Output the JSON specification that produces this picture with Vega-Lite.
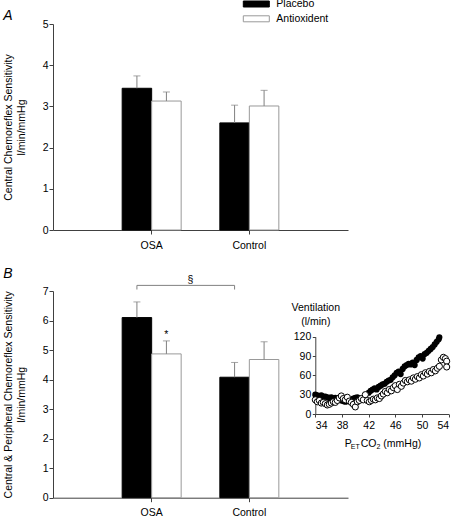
{
  "$schema": "https://vega.github.io/schema/vega-lite/v6.json",
  "padding": {"left": 3, "top": -2, "right": 0, "bottom": 0},
  "spacing": 61,
  "bounds": "flush",
  "config": {
    "view": {"stroke": null},
    "font": "Liberation Sans",
    "axis": {
      "labelFont": "Liberation Sans", "labelFontSize": 10.5, "labelColor": "black", "labelOverlap": false,
      "titleFont": "Liberation Sans", "titleFontSize": 10.5, "titleFontWeight": "normal", "titleColor": "black",
      "domainColor": "#404040", "tickColor": "#404040", "grid": false, "tickSize": 4, "labelPadding": 1
    },
    "legend": {"labelFont": "Liberation Sans", "labelFontSize": 10.5, "labelColor": "black"}
  },
  "datasets": {
    "bars": [
      {"panel": "A", "group": "OSA", "treat": "Placebo", "value": 3.44, "upper": 3.74, "sig": ""},
      {"panel": "A", "group": "OSA", "treat": "Antioxident", "value": 3.13, "upper": 3.35, "sig": ""},
      {"panel": "A", "group": "Control", "treat": "Placebo", "value": 2.6, "upper": 3.03, "sig": ""},
      {"panel": "A", "group": "Control", "treat": "Antioxident", "value": 3.01, "upper": 3.39, "sig": ""},
      {"panel": "B", "group": "OSA", "treat": "Placebo", "value": 6.1, "upper": 6.63, "sig": ""},
      {"panel": "B", "group": "OSA", "treat": "Antioxident", "value": 4.87, "upper": 5.31, "sig": "*"},
      {"panel": "B", "group": "Control", "treat": "Placebo", "value": 4.08, "upper": 4.58, "sig": ""},
      {"panel": "B", "group": "Control", "treat": "Antioxident", "value": 4.68, "upper": 5.28, "sig": ""}
    ],
    "bracket": [
      {"group": "OSA", "treat": "Placebo", "y": 7.05, "o": 1},
      {"group": "OSA", "treat": "Placebo", "y": 7.19, "o": 2},
      {"group": "Control", "treat": "Placebo", "y": 7.19, "o": 3},
      {"group": "Control", "treat": "Placebo", "y": 7.05, "o": 4}
    ],
    "vent": [
      {"s": "P", "x": 34.0, "y": 30}, {"s": "P", "x": 34.3, "y": 29}, {"s": "P", "x": 34.6, "y": 28}, {"s": "P", "x": 34.9, "y": 29},
      {"s": "P", "x": 35.2, "y": 27}, {"s": "P", "x": 35.5, "y": 27}, {"s": "P", "x": 35.8, "y": 26}, {"s": "P", "x": 36.1, "y": 25},
      {"s": "P", "x": 36.4, "y": 26}, {"s": "P", "x": 36.7, "y": 24}, {"s": "P", "x": 37.0, "y": 25}, {"s": "P", "x": 37.3, "y": 24},
      {"s": "P", "x": 37.6, "y": 23}, {"s": "P", "x": 37.9, "y": 21}, {"s": "P", "x": 38.2, "y": 20}, {"s": "P", "x": 38.5, "y": 19},
      {"s": "P", "x": 38.8, "y": 20}, {"s": "P", "x": 39.1, "y": 21}, {"s": "P", "x": 39.4, "y": 22}, {"s": "P", "x": 39.7, "y": 24},
      {"s": "P", "x": 40.0, "y": 25}, {"s": "P", "x": 40.3, "y": 26}, {"s": "P", "x": 40.6, "y": 24}, {"s": "P", "x": 42.0, "y": 33},
      {"s": "P", "x": 42.3, "y": 36}, {"s": "P", "x": 42.6, "y": 38}, {"s": "P", "x": 42.9, "y": 40}, {"s": "P", "x": 43.2, "y": 38},
      {"s": "P", "x": 43.5, "y": 42}, {"s": "P", "x": 43.8, "y": 44}, {"s": "P", "x": 44.1, "y": 46}, {"s": "P", "x": 44.4, "y": 47},
      {"s": "P", "x": 44.7, "y": 50}, {"s": "P", "x": 45.0, "y": 52}, {"s": "P", "x": 45.3, "y": 53}, {"s": "P", "x": 45.6, "y": 57},
      {"s": "P", "x": 45.9, "y": 60}, {"s": "P", "x": 46.2, "y": 64}, {"s": "P", "x": 46.5, "y": 66}, {"s": "P", "x": 46.8, "y": 62},
      {"s": "P", "x": 47.1, "y": 70}, {"s": "P", "x": 47.4, "y": 74}, {"s": "P", "x": 47.7, "y": 76}, {"s": "P", "x": 48.0, "y": 78},
      {"s": "P", "x": 48.3, "y": 77}, {"s": "P", "x": 48.6, "y": 80}, {"s": "P", "x": 48.9, "y": 76}, {"s": "P", "x": 49.2, "y": 84},
      {"s": "P", "x": 49.5, "y": 88}, {"s": "P", "x": 49.8, "y": 90}, {"s": "P", "x": 50.1, "y": 86}, {"s": "P", "x": 50.4, "y": 93},
      {"s": "P", "x": 50.7, "y": 95}, {"s": "P", "x": 51.0, "y": 98}, {"s": "P", "x": 51.3, "y": 101}, {"s": "P", "x": 51.6, "y": 104},
      {"s": "P", "x": 51.9, "y": 108}, {"s": "P", "x": 52.2, "y": 112}, {"s": "P", "x": 52.5, "y": 116}, {"s": "P", "x": 52.6, "y": 119},
      {"s": "A", "x": 34.0, "y": 22}, {"s": "A", "x": 34.3, "y": 19}, {"s": "A", "x": 34.6, "y": 21}, {"s": "A", "x": 34.9, "y": 17},
      {"s": "A", "x": 35.2, "y": 18}, {"s": "A", "x": 35.5, "y": 16}, {"s": "A", "x": 35.8, "y": 14}, {"s": "A", "x": 36.1, "y": 15},
      {"s": "A", "x": 36.4, "y": 17}, {"s": "A", "x": 36.7, "y": 19}, {"s": "A", "x": 37.0, "y": 18}, {"s": "A", "x": 37.3, "y": 21},
      {"s": "A", "x": 37.6, "y": 25}, {"s": "A", "x": 37.9, "y": 28}, {"s": "A", "x": 38.2, "y": 24}, {"s": "A", "x": 38.5, "y": 22},
      {"s": "A", "x": 38.8, "y": 26}, {"s": "A", "x": 39.1, "y": 20}, {"s": "A", "x": 39.4, "y": 18}, {"s": "A", "x": 39.7, "y": 15},
      {"s": "A", "x": 40.0, "y": 11}, {"s": "A", "x": 40.3, "y": 19}, {"s": "A", "x": 40.6, "y": 21}, {"s": "A", "x": 40.9, "y": 24},
      {"s": "A", "x": 41.2, "y": 22}, {"s": "A", "x": 41.5, "y": 30}, {"s": "A", "x": 41.8, "y": 21}, {"s": "A", "x": 42.1, "y": 19},
      {"s": "A", "x": 42.4, "y": 21}, {"s": "A", "x": 42.7, "y": 23}, {"s": "A", "x": 43.0, "y": 22}, {"s": "A", "x": 43.3, "y": 25},
      {"s": "A", "x": 43.6, "y": 24}, {"s": "A", "x": 43.9, "y": 28}, {"s": "A", "x": 44.2, "y": 31}, {"s": "A", "x": 44.5, "y": 35},
      {"s": "A", "x": 44.8, "y": 33}, {"s": "A", "x": 45.1, "y": 38}, {"s": "A", "x": 45.4, "y": 36}, {"s": "A", "x": 45.7, "y": 41},
      {"s": "A", "x": 46.0, "y": 44}, {"s": "A", "x": 46.3, "y": 38}, {"s": "A", "x": 46.6, "y": 46}, {"s": "A", "x": 46.9, "y": 43},
      {"s": "A", "x": 47.2, "y": 48}, {"s": "A", "x": 47.5, "y": 52}, {"s": "A", "x": 47.8, "y": 50}, {"s": "A", "x": 48.1, "y": 53},
      {"s": "A", "x": 48.4, "y": 51}, {"s": "A", "x": 48.7, "y": 56}, {"s": "A", "x": 49.0, "y": 54}, {"s": "A", "x": 49.3, "y": 58},
      {"s": "A", "x": 49.6, "y": 56}, {"s": "A", "x": 49.9, "y": 61}, {"s": "A", "x": 50.2, "y": 59}, {"s": "A", "x": 50.5, "y": 64},
      {"s": "A", "x": 50.8, "y": 62}, {"s": "A", "x": 51.1, "y": 66}, {"s": "A", "x": 51.4, "y": 64}, {"s": "A", "x": 51.7, "y": 69},
      {"s": "A", "x": 52.0, "y": 67}, {"s": "A", "x": 52.3, "y": 71}, {"s": "A", "x": 52.6, "y": 74}, {"s": "A", "x": 52.9, "y": 84},
      {"s": "A", "x": 53.2, "y": 88}, {"s": "A", "x": 53.5, "y": 86}, {"s": "A", "x": 53.7, "y": 82}, {"s": "A", "x": 53.7, "y": 73}
    ]
  },
  "vconcat": [
    {
      "width": 295, "height": 206,
      "title": {"text": "A", "anchor": "start", "frame": "bounds", "font": "Liberation Sans", "fontStyle": "italic", "fontSize": 14, "fontWeight": "normal", "offset": -4},
      "data": {"name": "bars"},
      "transform": [{"filter": "datum.panel == 'A'"}],
      "layer": [
        {
          "mark": {"type": "bar", "strokeWidth": 1},
          "encoding": {
            "x": {"field": "group", "type": "nominal", "sort": ["OSA", "Control"], "scale": {"paddingInner": 0.396, "paddingOuter": 0.708}, "axis": {"title": null, "labelAngle": 0, "labelPadding": 6}},
            "xOffset": {"field": "treat", "sort": ["Placebo", "Antioxident"], "scale": {"paddingInner": 0, "paddingOuter": 0}},
            "y": {"field": "value", "type": "quantitative", "scale": {"domain": [0, 5], "nice": false}, "axis": {"title": ["Central Chemoreflex Sensitivity", "l/min/mmHg"], "values": [0, 1, 2, 3, 4, 5], "titlePadding": 16, "titleLineHeight": 13}},
            "fill": {"field": "treat", "type": "nominal", "scale": {"domain": ["Placebo", "Antioxident"], "range": ["black", "white"]},
              "legend": {"title": null, "orient": "none", "legendX": 197.8, "legendY": -25.5, "symbolType": "M-2.6,-0.6H2.6V0.6H-2.6Z", "symbolSize": 100, "labelOffset": 14.5, "rowPadding": 3.8, "symbolStrokeWidth": 1}},
            "stroke": {"field": "treat", "type": "nominal", "scale": {"domain": ["Placebo", "Antioxident"], "range": ["black", "#999999"]},
              "legend": {"title": null, "orient": "none", "legendX": 197.8, "legendY": -25.5, "symbolType": "M-2.6,-0.6H2.6V0.6H-2.6Z", "symbolSize": 100, "labelOffset": 14.5, "rowPadding": 3.8, "symbolStrokeWidth": 1}}
          }
        },
        {
          "mark": {"type": "rule", "color": "#808080", "strokeWidth": 1},
          "encoding": {
            "x": {"field": "group", "type": "nominal", "sort": ["OSA", "Control"]},
            "xOffset": {"field": "treat", "sort": ["Placebo", "Antioxident"]},
            "y": {"field": "value", "type": "quantitative", "axis": {"title": ["Central Chemoreflex Sensitivity", "l/min/mmHg"], "values": [0, 1, 2, 3, 4, 5], "titlePadding": 16, "titleLineHeight": 13}},
            "y2": {"field": "upper"}
          }
        },
        {
          "mark": {"type": "tick", "orient": "horizontal", "size": 7, "thickness": 1, "color": "#808080"},
          "encoding": {
            "x": {"field": "group", "type": "nominal", "sort": ["OSA", "Control"]},
            "xOffset": {"field": "treat", "sort": ["Placebo", "Antioxident"]},
            "y": {"field": "upper", "type": "quantitative", "axis": {"title": ["Central Chemoreflex Sensitivity", "l/min/mmHg"], "values": [0, 1, 2, 3, 4, 5], "titlePadding": 16, "titleLineHeight": 13}}
          }
        }
      ]
    },
    {
      "width": 295, "height": 206.7,
      "title": {"text": "B", "anchor": "start", "frame": "bounds", "font": "Liberation Sans", "fontStyle": "italic", "fontSize": 14, "fontWeight": "normal", "offset": -6},
      "layer": [
        {
          "data": {"name": "bars"},
          "transform": [{"filter": "datum.panel == 'B'"}],
          "layer": [
            {
              "mark": {"type": "bar", "strokeWidth": 1},
              "encoding": {
                "x": {"field": "group", "type": "nominal", "sort": ["OSA", "Control"], "scale": {"paddingInner": 0.396, "paddingOuter": 0.708}, "axis": {"title": null, "labelAngle": 0, "labelPadding": 6}},
                "xOffset": {"field": "treat", "sort": ["Placebo", "Antioxident"], "scale": {"paddingInner": 0, "paddingOuter": 0}},
                "y": {"field": "value", "type": "quantitative", "scale": {"domain": [0, 7], "nice": false}, "axis": {"title": ["Central & Peripheral Chemoreflex Sensitivity", "l/min/mmHg"], "values": [0, 1, 2, 3, 4, 5, 6, 7], "titlePadding": 16, "titleLineHeight": 13}},
                "fill": {"field": "treat", "type": "nominal"},
                "stroke": {"field": "treat", "type": "nominal"}
              }
            },
            {
              "mark": {"type": "rule", "color": "#808080", "strokeWidth": 1},
              "encoding": {
                "x": {"field": "group", "type": "nominal", "sort": ["OSA", "Control"]},
                "xOffset": {"field": "treat", "sort": ["Placebo", "Antioxident"]},
                "y": {"field": "value", "type": "quantitative", "axis": {"title": ["Central & Peripheral Chemoreflex Sensitivity", "l/min/mmHg"], "values": [0, 1, 2, 3, 4, 5, 6, 7], "titlePadding": 16, "titleLineHeight": 13}},
                "y2": {"field": "upper"}
              }
            },
            {
              "mark": {"type": "tick", "orient": "horizontal", "size": 7, "thickness": 1, "color": "#808080"},
              "encoding": {
                "x": {"field": "group", "type": "nominal", "sort": ["OSA", "Control"]},
                "xOffset": {"field": "treat", "sort": ["Placebo", "Antioxident"]},
                "y": {"field": "upper", "type": "quantitative", "axis": {"title": ["Central & Peripheral Chemoreflex Sensitivity", "l/min/mmHg"], "values": [0, 1, 2, 3, 4, 5, 6, 7], "titlePadding": 16, "titleLineHeight": 13}}
              }
            },
            {
              "mark": {"type": "text", "baseline": "bottom", "dy": -1, "fontSize": 10.5, "color": "black"},
              "encoding": {
                "x": {"field": "group", "type": "nominal", "sort": ["OSA", "Control"]},
                "xOffset": {"field": "treat", "sort": ["Placebo", "Antioxident"]},
                "y": {"field": "upper", "type": "quantitative", "axis": {"title": ["Central & Peripheral Chemoreflex Sensitivity", "l/min/mmHg"], "values": [0, 1, 2, 3, 4, 5, 6, 7], "titlePadding": 16, "titleLineHeight": 13}},
                "text": {"field": "sig"}
              }
            },
            {
              "data": {"name": "bracket"},
              "mark": {"type": "line", "color": "#808080", "strokeWidth": 1},
              "encoding": {
                "x": {"field": "group", "type": "nominal", "sort": ["OSA", "Control"]},
                "xOffset": {"field": "treat", "sort": ["Placebo", "Antioxident"]},
                "y": {"field": "y", "type": "quantitative", "axis": {"title": ["Central & Peripheral Chemoreflex Sensitivity", "l/min/mmHg"], "values": [0, 1, 2, 3, 4, 5, 6, 7], "titlePadding": 16, "titleLineHeight": 13}},
                "order": {"field": "o"}
              }
            },
            {
              "data": {"values": [{}]},
              "mark": {"type": "text", "text": "§", "fontSize": 10.5, "color": "black", "baseline": "middle", "dx": 38.7},
              "encoding": {
                "x": {"datum": "OSA", "type": "nominal"},
                "y": {"datum": 7.38, "type": "quantitative", "axis": {"title": ["Central & Peripheral Chemoreflex Sensitivity", "l/min/mmHg"], "values": [0, 1, 2, 3, 4, 5, 6, 7], "titlePadding": 16, "titleLineHeight": 13}}
              }
            }
          ]
        },
        {
          "layer": [
            {
              "data": {"name": "vent"},
              "transform": [{"filter": "datum.s == 'P'"}],
              "mark": {"type": "point", "filled": true, "color": "black", "size": 38, "opacity": 1},
              "encoding": {
                "x": {"field": "x", "type": "quantitative", "scale": {"domain": [34, 54], "range": [262.3, 395.7], "nice": false, "zero": false},
                  "axis": {"orient": "bottom", "offset": -83.7, "values": [34, 38, 42, 46, 50, 54], "title": null, "tickSize": 3, "labelPadding": 3}},
                "y": {"field": "y", "type": "quantitative", "scale": {"domain": [0, 120], "range": [123, 45.7], "nice": false},
                  "axis": {"orient": "left", "offset": -262.3, "values": [0, 30, 60, 90, 120], "tickSize": 3, "labelPadding": 1.5,
                    "title": ["Ventilation", "(l/min)"], "titleAngle": 0, "titleAlign": "center", "titleBaseline": "alphabetic", "titleX": 0, "titleY": 19.2, "titleLineHeight": 14.3}}
              }
            },
            {
              "data": {"name": "vent"},
              "transform": [{"filter": "datum.s == 'A'"}],
              "mark": {"type": "point", "filled": true, "fill": "white", "stroke": "black", "strokeWidth": 1, "size": 38, "opacity": 1},
              "encoding": {
                "x": {"field": "x", "type": "quantitative"},
                "y": {"field": "y", "type": "quantitative"}
              }
            },
            {"data": {"values": [{}]}, "mark": {"type": "text", "text": "P", "fontSize": 10.5, "align": "left", "baseline": "alphabetic", "color": "black"},
             "encoding": {"x": {"datum": 38.41}, "y": {"datum": -50.8}}},
            {"data": {"values": [{}]}, "mark": {"type": "text", "text": "ET", "fontSize": 7, "align": "left", "baseline": "alphabetic", "color": "black"},
             "encoding": {"x": {"datum": 39.31}, "y": {"datum": -54.7}}},
            {"data": {"values": [{}]}, "mark": {"type": "text", "text": "CO", "fontSize": 10.5, "align": "left", "baseline": "alphabetic", "color": "black"},
             "encoding": {"x": {"datum": 40.8}, "y": {"datum": -50.8}}},
            {"data": {"values": [{}]}, "mark": {"type": "text", "text": "2", "fontSize": 7, "align": "left", "baseline": "alphabetic", "color": "black"},
             "encoding": {"x": {"datum": 43.18}, "y": {"datum": -54.7}}},
            {"data": {"values": [{}]}, "mark": {"type": "text", "text": "(mmHg)", "fontSize": 10.5, "align": "left", "baseline": "alphabetic", "color": "black"},
             "encoding": {"x": {"datum": 44.2}, "y": {"datum": -50.8}}}
          ]
        }
      ],
      "resolve": {"scale": {"x": "independent", "y": "independent"}, "axis": {"x": "independent", "y": "independent"}}
    }
  ]
}
